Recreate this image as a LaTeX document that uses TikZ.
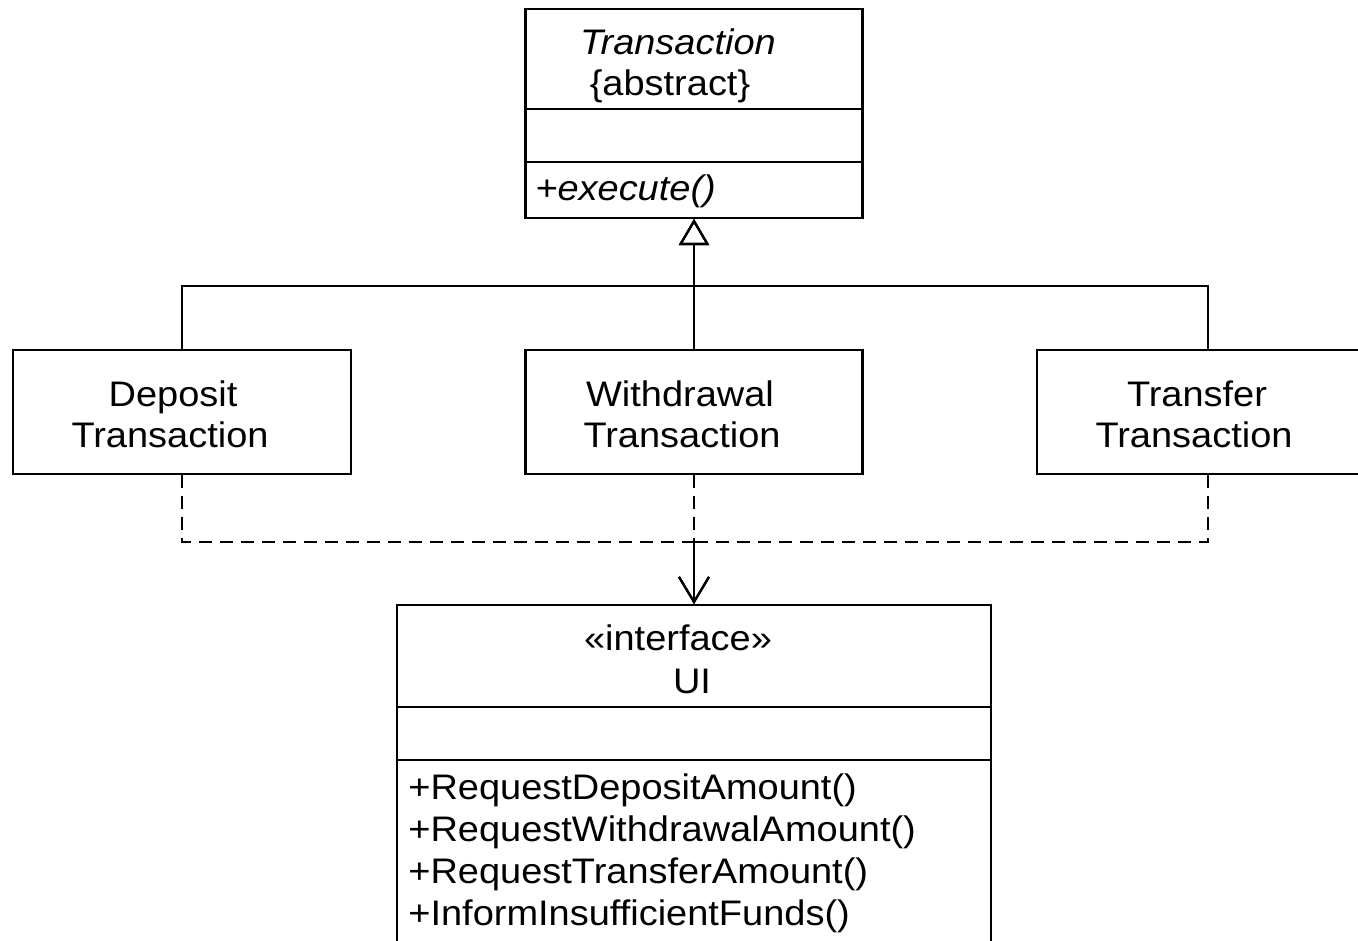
\documentclass[tikz,border=0pt]{standalone}
\usepackage{fontspec}
\setmainfont[FakeStretch=1.07]{Liberation Sans}
\usetikzlibrary{arrows.meta}

\begin{document}
\begin{tikzpicture}[x=0.02cm, y=-0.02cm,
	box/.style={draw, line width=1.2pt, inner sep=0pt, minimum width=6.74cm},
	txt/.style={font=\fontsize{20.2}{24}\selectfont, inner sep=0pt, anchor=base},
	op/.style={txt, anchor=base west},
	inherit/.style={line width=1.2pt, -{Triangle[open, length=0.52cm, width=0.6cm]}},
	uses/.style={line width=1.2pt, dash pattern=on 0.26cm off 0.16cm, -{Straight Barb[length=0.5cm, width=0.6cm]}}]
	\useasboundingbox (0, 0) rectangle (1358, 940);
	\clip (0, 0) rectangle (1358, 940);

	% abstract base class
	\node[box, minimum height=2cm] (abs) at (694, 59) {};
	\node[box, minimum height=1.06cm] (absattr) at (694, 135.5) {};
	\node[box, minimum height=1.12cm] (absops) at (694, 190) {};
	\node[txt] (absname) at (678, 54) {\itshape Transaction};
	\node[txt] (abskind) at (670, 95) {\{abstract\}};
	\node[op] (absexec) at (535, 200) {\itshape +execute()};

	% the three transactions
	\node[box, minimum height=2.48cm, minimum width=6.76cm] (dep) at (182, 412) {};
	\node[txt] (depa) at (173, 406) {Deposit};
	\node[txt] (depb) at (170, 447) {Transaction};

	\node[box, minimum height=2.48cm] (wd) at (694, 412) {};
	\node[txt] (wda) at (680, 406) {Withdrawal};
	\node[txt] (wdb) at (682, 447) {Transaction};

	\node[box, minimum height=2.48cm, minimum width=6.84cm] (tf) at (1208, 412) {};
	\node[txt] (tfa) at (1197, 406) {Transfer};
	\node[txt] (tfb) at (1194, 447) {Transaction};

	% interface
	\node[box, minimum width=11.88cm, minimum height=2.04cm] (ui) at (694, 656) {};
	\node[box, minimum width=11.88cm, minimum height=1.06cm] (uiattr) at (694, 733.5) {};
	\node[box, minimum width=11.88cm, minimum height=3.8cm] (uiops) at (694, 855) {};
	\node[txt] (uikind) at (678, 650) {«interface»};
	\node[txt] (uiname) at (692, 693) {UI};
	\node[op] (uiop1) at (408, 799) {+RequestDepositAmount()};
	\node[op] (uiop2) at (408, 841) {+RequestWithdrawalAmount()};
	\node[op] (uiop3) at (408, 883) {+RequestTransferAmount()};
	\node[op] (uiop4) at (408, 925) {+InformInsufficientFunds()};

	% generalization
	\coordinate (bus) at (694, 286);
	\draw[inherit] (dep.north) |- (bus) -- (absops.south);
	\draw[inherit] (wd.north) -- (absops.south);
	\draw[inherit] (tf.north) |- (bus) -- (absops.south);

	% dependencies on the interface
	\coordinate (dbus) at (694, 542);
	\draw[uses] (dep.south) |- (dbus) -- (ui.north);
	\draw[uses] (wd.south) -- (ui.north);
	\draw[uses] (tf.south) |- (dbus) -- (ui.north);
\end{tikzpicture}
\end{document}
